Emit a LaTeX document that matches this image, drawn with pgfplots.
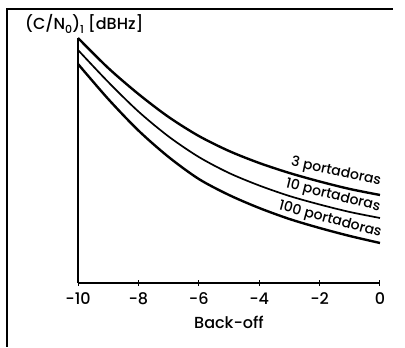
\documentclass[border=0pt]{standalone}
\usepackage{pgfplots}
\pgfplotsset{compat=1.18}
\usepackage{fontspec}
\setmainfont{Poppins}[UprightFont=* Medium]
\newcommand\lowsub[1]{\raisebox{-0.45ex}{\fontsize{11bp}{11bp}\selectfont #1}}
\begin{document}
\begin{tikzpicture}
\begin{axis}[
  scale only axis, width=302bp, height=245bp,
  xmin=-10, xmax=0, ymin=0, ymax=245,
  enlargelimits=false,
  axis lines=left,
  axis line style={-, line width=1.2pt},
  xtick={-10,-8,-6,-4,-2,0}, ytick=\empty,
  tick style={black, line width=1pt},
  major tick length=6bp, xtick align=center,
  ticklabel style={font=\fontsize{16bp}{18bp}\selectfont},
  /pgf/number format/assume math mode=true,
  xticklabel style={yshift=-3bp},
  xlabel={Back-off},
  xlabel style={font=\fontsize{16bp}{18bp}\selectfont, yshift=-5bp},
  clip=false,
]
\addplot[smooth, line width=2.4pt] coordinates {(-10,245) (-9,215) (-8,189) (-7,166) (-6,147) (-5,132) (-4,120) (-3,110) (-2,101.5) (-1,94) (0,88)};
\addplot[smooth, line width=1.7pt] coordinates {(-10,233) (-9,201) (-8,171.5) (-7,146.5) (-6,126) (-5,110) (-4,97.5) (-3,87) (-2,78.5) (-1,71) (0,65)};
\addplot[smooth, line width=2.4pt] coordinates {(-10,219) (-9,184) (-8,152.5) (-7,126) (-6,104) (-5,88) (-4,75) (-3,64) (-2,55) (-1,47) (0,40)};
\node[rotate=-12, font=\fontsize{14bp}{16bp}\selectfont] at (axis cs:-1.457,111) {3 portadoras};
\node[rotate=-14, font=\fontsize{14bp}{16bp}\selectfont] at (axis cs:-1.556,87) {10 portadoras};
\node[rotate=-15, font=\fontsize{14bp}{16bp}\selectfont] at (axis cs:-1.656,63) {100 portadoras};
\node[anchor=base west, font=\fontsize{16bp}{18bp}\selectfont, inner sep=0pt] at (axis cs:-11.755,253) {(C/N\lowsub{0})\lowsub{1} [dBHz]};
\draw[line width=1.5pt] (axis cs:-12.351,-64) -- (axis cs:-12.351,274) -- (axis cs:0.43,274);
\path (axis cs:-12.583,-64) rectangle (axis cs:0.828,283);
\end{axis}
\end{tikzpicture}
\end{document}
